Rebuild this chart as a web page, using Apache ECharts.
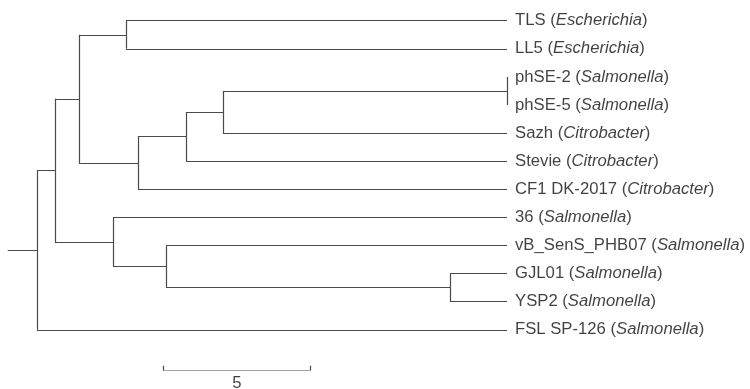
<!DOCTYPE html>
<html><head><meta charset="utf-8">
<script src="https://cdn.jsdelivr.net/npm/echarts@6/dist/echarts.min.js"></script>
<style>html,body{margin:0;padding:0;background:#fff}#c{width:750px;height:389px}</style>
</head><body><div id="c"></div>
<script>
// Leaves (top to bottom)
const leafNames = ['TLS','LL5','phSE-2','phSE-5','Sazh','Stevie','CF1 DK-2017','36','vB_SenS_PHB07','GJL01','YSP2','FSL SP-126'];
const leafGenus = ['Escherichia','Escherichia','Salmonella','Salmonella','Citrobacter','Citrobacter','Citrobacter','Salmonella','Salmonella','Salmonella','Salmonella','Salmonella'];
const leafDepth = [16.02,16.02,16.02,16.02,16.02,16.02,16.02,16.02,16.02,16.02,16.02,16.02];
const leafParent = ['D','D','H','H','G','F','E','C','I','J','J','root'];
// Internal nodes
const nodeNames  = ['root','A','B','C','D','E','F','G','H','I','J'];
const nodeDepth  = [0, 0.61, 1.43, 2.59, 3.03, 3.44, 5.08, 6.34, 16.02, 4.40, 14.08];
const nodeParent = [null,'root','A','A','B','B','E','F','G','C','I'];
const rootStub = 1;
// Scale bar
const scaleLength = 5;
const scaleStart = 4.31;
const scaleRow = 12.43;
const scaleLabel = '5';

const depthOf = {}, parentOf = {};
nodeNames.forEach((n,i)=>{depthOf[n]=nodeDepth[i]; parentOf[n]=nodeParent[i];});
const children = {}; nodeNames.forEach(n=>children[n]=[]);
leafNames.forEach((n,i)=>children[leafParent[i]].push({leaf:true,idx:i}));
nodeNames.forEach((n,i)=>{ if(nodeParent[i]) children[nodeParent[i]].push({leaf:false,name:n}); });
const yOf = {};
function nodeY(n){
  if (yOf[n]!==undefined) return yOf[n];
  const ys = children[n].map(c=>c.leaf?c.idx:nodeY(c.name));
  yOf[n] = (Math.min(...ys)+Math.max(...ys))/2;
  return yOf[n];
}
nodeNames.forEach(nodeY);
const segs = [];
nodeNames.forEach(n=>{
  const ys = children[n].map(c=>c.leaf?c.idx:yOf[c.name]);
  segs.push({coords:[[depthOf[n],Math.min(...ys)],[depthOf[n],Math.max(...ys)]]});
  children[n].forEach(c=>{
    const y = c.leaf?c.idx:yOf[c.name];
    const d = c.leaf?leafDepth[c.idx]:depthOf[c.name];
    segs.push({coords:[[depthOf[n],y],[d,y]]});
  });
});
segs.push({coords:[[depthOf.root-rootStub,yOf.root],[depthOf.root,yOf.root]]});
// scale bar
segs.push({coords:[[scaleStart,scaleRow],[scaleStart+scaleLength,scaleRow]]});
segs.push({coords:[[scaleStart,scaleRow-0.15],[scaleStart,scaleRow+0.15]]});
segs.push({coords:[[scaleStart+scaleLength,scaleRow-0.15],[scaleStart+scaleLength,scaleRow+0.15]]});

const FONT = 'Liberation Sans, Arial, Helvetica, sans-serif';
const chart = echarts.init(document.getElementById('c'));
chart.setOption({
  animation:false,
  grid:{left:7.7,right:243,top:20.7,bottom:19},
  xAxis:{type:'value',min:-1,max:16.02,show:false},
  yAxis:{type:'value',min:0,max:12.43,inverse:true,show:false},
  series:[
    {type:'lines',coordinateSystem:'cartesian2d',polyline:false,
     lineStyle:{color:'#4a4a4a',width:1.2,opacity:1},data:segs,silent:true},
    {type:'scatter',symbolSize:0,silent:true,
     data:leafNames.map((n,i)=>[leafDepth[i],i]),
     label:{show:true,position:'right',distance:8,
       formatter:p=>'{n|'+leafNames[p.dataIndex]+' (}{i|'+leafGenus[p.dataIndex]+'}{n|)}',
       rich:{n:{fontFamily:FONT,fontSize:16.7,color:'#111'},
             i:{fontFamily:FONT,fontSize:16.7,fontStyle:'italic',color:'#111'}}}},
    {type:'scatter',symbolSize:0,silent:true,
     data:[[scaleStart+scaleLength/2,scaleRow]],
     label:{show:true,position:'bottom',distance:5,formatter:scaleLabel,
       fontFamily:FONT,fontSize:16.7,color:'#111'}}
  ]
});
</script></body></html>
